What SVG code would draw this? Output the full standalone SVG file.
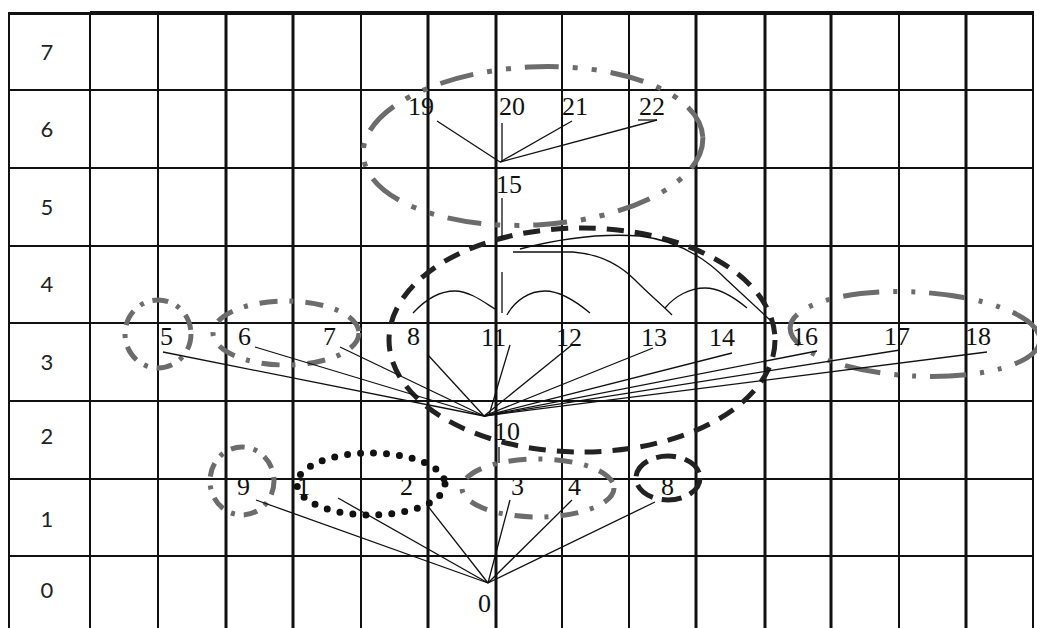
<svg xmlns="http://www.w3.org/2000/svg" width="1037" height="628" viewBox="0 0 1037 628">
<defs>
<style>
.g{stroke:#111;stroke-width:2;fill:none}
.gt{stroke:#111;stroke-width:3;fill:none}
.rl{font-family:Lato,"Open Sans","Liberation Sans",sans-serif;font-size:22px;fill:#222;text-anchor:middle}
.nl{font-family:"Liberation Serif","Times New Roman",serif;font-size:26px;fill:#111}
.c{stroke:#111;stroke-width:1.3;fill:none}
.gray{fill:none;stroke:#6c6c6c;stroke-width:5}
.blk{fill:none;stroke:#222;stroke-width:5}
.dot{fill:none;stroke:#111;stroke-width:7;stroke-linecap:round;stroke-dasharray:0 13}
</style>
</defs>
<rect width="1037" height="628" fill="#fff"/>
<g id="grid">
<line class="g" x1="9" y1="90" x2="1033" y2="90"/>
<line class="g" x1="9" y1="168" x2="1033" y2="168"/>
<line class="g" x1="9" y1="246" x2="1033" y2="246"/>
<line class="g" x1="9" y1="323" x2="1033" y2="323"/>
<line class="g" x1="9" y1="401" x2="1033" y2="401"/>
<line class="g" x1="9" y1="479" x2="1033" y2="479"/>
<line class="g" x1="9" y1="556" x2="1033" y2="556"/>
<line stroke="#111" stroke-width="3" x1="8" y1="13.5" x2="91" y2="13.5"/>
<line stroke="#111" stroke-width="4" x1="90" y1="13" x2="1034" y2="13"/>
<line class="g" x1="9" y1="12" x2="9" y2="628"/>
<line class="g" x1="90" y1="12" x2="90" y2="628"/>
<line class="g" x1="158" y1="12" x2="158" y2="628"/>
<line class="gt" x1="226" y1="12" x2="226" y2="628"/>
<line class="gt" x1="293" y1="12" x2="293" y2="628"/>
<line class="g" x1="361" y1="12" x2="361" y2="628"/>
<line class="gt" x1="428" y1="12" x2="428" y2="628"/>
<line class="gt" x1="496" y1="12" x2="496" y2="628"/>
<line class="g" x1="562" y1="12" x2="562" y2="628"/>
<line class="g" x1="629" y1="12" x2="629" y2="628"/>
<line class="gt" x1="696" y1="12" x2="696" y2="628"/>
<line class="gt" x1="765" y1="12" x2="765" y2="628"/>
<line class="gt" x1="831" y1="12" x2="831" y2="628"/>
<line class="g" x1="899" y1="12" x2="899" y2="628"/>
<line class="gt" x1="966" y1="12" x2="966" y2="628"/>
<line class="g" x1="1033" y1="12" x2="1033" y2="628"/>
</g>
<g id="row-labels">
<text class="rl" x="47" y="60">7</text>
<text class="rl" x="47" y="137">6</text>
<text class="rl" x="47" y="215">5</text>
<text class="rl" x="47" y="292">4</text>
<text class="rl" x="47" y="370">3</text>
<text class="rl" x="47" y="444">2</text>
<text class="rl" x="47" y="527">1</text>
<text class="rl" x="47" y="598">0</text>
</g>
<g id="clusters">
<ellipse class="gray" cx="533" cy="146" rx="170" ry="79" transform="rotate(-3 533 146)" stroke-dasharray="34 14 5 14 5 14"/>
<ellipse class="blk" cx="582" cy="340" rx="193" ry="112" stroke-dasharray="17 11"/>
<ellipse class="gray" cx="158" cy="334" rx="33" ry="34" stroke-dasharray="16 9 4 9"/>
<ellipse class="gray" cx="286" cy="333" rx="73" ry="32" stroke-dasharray="18 12 4 12"/>
<ellipse class="gray" cx="915" cy="334" rx="125" ry="42" transform="rotate(3 915 334)" stroke-dasharray="36 14 4 14 4 14"/>
<ellipse class="gray" cx="242" cy="481" rx="32" ry="34" stroke-dasharray="14 9 4 9"/>
<ellipse class="dot" cx="371" cy="484" rx="74" ry="31"/>
<ellipse class="gray" cx="538" cy="488" rx="76" ry="29" stroke-dasharray="18 12 4 12"/>
<ellipse class="blk" cx="668" cy="478" rx="32" ry="22" stroke-dasharray="20 9"/>
</g>
<g id="connectors">
<line class="c" x1="437" y1="121" x2="500" y2="162"/>
<line class="c" x1="572" y1="121" x2="500" y2="162"/>
<line class="c" x1="657" y1="120" x2="500" y2="162"/>
<line class="c" x1="638" y1="120" x2="657" y2="120"/>
<line class="c" x1="502" y1="123" x2="502" y2="162"/>
<line class="c" x1="502" y1="198" x2="502" y2="238"/>
<line class="c" x1="502" y1="272" x2="502" y2="313"/>
<path class="c" d="M413,313 C425,300 440,291 455,291 C470,291 485,303 495,309"/>
<path class="c" d="M507,315 C515,300 530,291 545,291 C560,291 578,303 590,313"/>
<path class="c" d="M513,252 L573,252 C600,254 620,265 635,280 C650,295 662,305 672,315"/>
<path class="c" d="M665,308 C675,296 690,288 705,288 C720,288 735,298 747,308"/>
<path class="c" d="M520,249 Q585,232 640,236 Q690,242 727,280 L770,320"/>
<line class="c" x1="163" y1="352" x2="484" y2="416"/>
<line class="c" x1="255" y1="347" x2="484" y2="416"/>
<line class="c" x1="340" y1="347" x2="484" y2="416"/>
<line class="c" x1="428" y1="355" x2="484" y2="416"/>
<line class="c" x1="510" y1="345" x2="489" y2="415"/>
<line class="c" x1="573" y1="344" x2="484" y2="416"/>
<line class="c" x1="653" y1="348" x2="484" y2="416"/>
<line class="c" x1="732" y1="353" x2="484" y2="416"/>
<line class="c" x1="817" y1="351" x2="484" y2="416"/>
<line class="c" x1="900" y1="350" x2="484" y2="416"/>
<line class="c" x1="987" y1="352" x2="484" y2="416"/>
<line class="c" x1="499" y1="447" x2="499" y2="463"/>
<line class="c" x1="256" y1="500" x2="488" y2="583"/>
<line class="c" x1="338" y1="498" x2="488" y2="583"/>
<line class="c" x1="427" y1="505" x2="488" y2="583"/>
<line class="c" x1="510" y1="500" x2="488" y2="583"/>
<line class="c" x1="572" y1="500" x2="488" y2="583"/>
<line class="c" x1="655" y1="502" x2="488" y2="583"/>
</g>
<g id="n19"><text class="nl" x="408" y="115">19</text></g>
<g id="n20"><text class="nl" x="499" y="115">20</text></g>
<g id="n21"><text class="nl" x="562" y="115">21</text></g>
<g id="n22"><text class="nl" x="639" y="115">22</text></g>
<g id="n15"><text class="nl" x="496" y="193">15</text></g>
<g id="n5"><text class="nl" x="160" y="345">5</text></g>
<g id="n6"><text class="nl" x="238" y="345">6</text></g>
<g id="n7"><text class="nl" x="323" y="345">7</text></g>
<g id="n8"><text class="nl" x="407" y="345">8</text></g>
<g id="n11"><text class="nl" x="481" y="346">11</text></g>
<g id="n12"><text class="nl" x="556" y="346">12</text></g>
<g id="n13"><text class="nl" x="641" y="346">13</text></g>
<g id="n14"><text class="nl" x="709" y="346">14</text></g>
<g id="n16"><text class="nl" x="792" y="345">16</text></g>
<g id="n17"><text class="nl" x="884" y="345">17</text></g>
<g id="n18"><text class="nl" x="965" y="345">18</text></g>
<g id="n10"><text class="nl" x="494" y="440">10</text></g>
<g id="n9"><text class="nl" x="237" y="495">9</text></g>
<g id="n1"><text class="nl" x="297" y="495">1</text></g>
<g id="n2"><text class="nl" x="400" y="495">2</text></g>
<g id="n3"><text class="nl" x="511" y="495">3</text></g>
<g id="n4"><text class="nl" x="568" y="495">4</text></g>
<g id="n8b"><text class="nl" x="661" y="495">8</text></g>
<g id="n0"><text class="nl" x="478" y="612">0</text></g>
</svg>
